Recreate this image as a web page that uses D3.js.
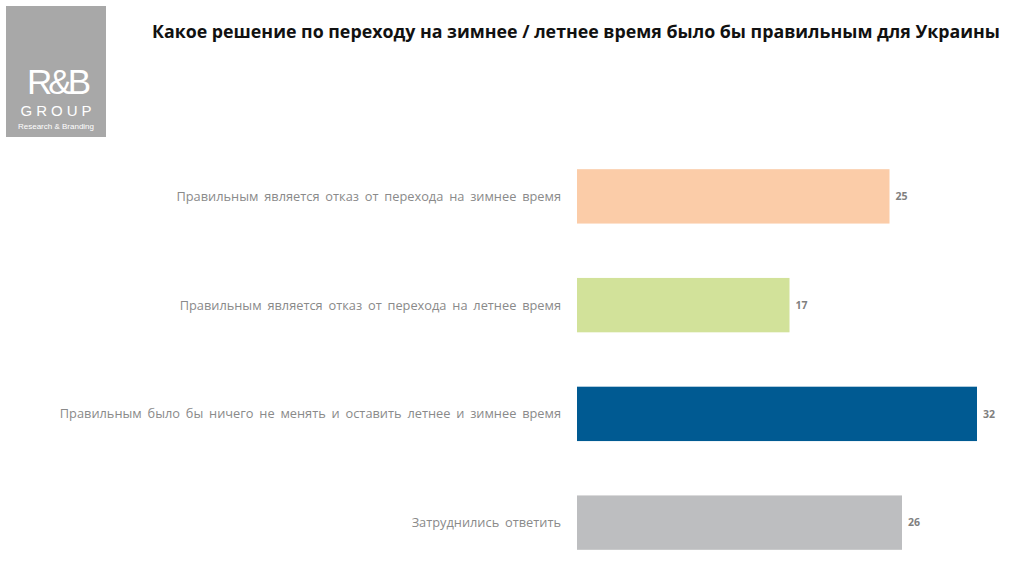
<!DOCTYPE html>
<html><head><meta charset="utf-8">
<script src="https://cdn.jsdelivr.net/npm/d3@7"></script>
<style>body{margin:0;background:#fff}svg{display:block}</style>
</head><body><svg id="c" width="1024" height="576"></svg>
<script>
const title = "Какое решение по переходу на зимнее / летнее время было бы правильным для Украины";
const categories = [
  "Правильным является отказ от перехода на зимнее время",
  "Правильным является отказ от перехода на летнее время",
  "Правильным было бы ничего не менять и оставить летнее и зимнее время",
  "Затруднились ответить"
];
const values = [25, 17, 32, 26];
const colors = ["#fbcca8", "#d2e29a", "#005a92", "#bdbec0"];

const svg = d3.select("#c");
const x = d3.scaleLinear().domain([0, 32]).range([577, 977]);
const y = d3.scaleBand().domain(categories).range([142, 577]).paddingInner(0.5).paddingOuter(0.25);

// logo
const logo = svg.append("g");
logo.append("rect").attr("x", 6).attr("y", 6).attr("width", 100).attr("height", 131).attr("fill", "#a8a8a8");
logo.append("text").attr("x", 57).attr("y", 94).attr("text-anchor", "middle").attr("fill", "#fff")
  .attr("font-family", "Liberation Sans, Arial").attr("font-size", 35).attr("letter-spacing", -4).text("R&B");
logo.append("text").attr("x", 58).attr("y", 116).attr("text-anchor", "middle").attr("fill", "#fff")
  .attr("font-family", "Liberation Sans, Arial").attr("font-size", 15).attr("letter-spacing", 4).text("GROUP");
logo.append("text").attr("x", 56).attr("y", 129).attr("text-anchor", "middle").attr("fill", "#fff")
  .attr("font-family", "Liberation Sans, Arial").attr("font-size", 8).text("Research & Branding");

svg.append("text").attr("x", 576).attr("y", 38).attr("text-anchor", "middle")
  .attr("font-family", "Open Sans, Noto Sans, sans-serif").attr("font-weight", "bold").attr("font-size", 17.8)
  .attr("fill", "#111").text(title);

const rows = svg.selectAll("g.row").data(categories).join("g").attr("class", "row");
rows.append("rect").attr("x", x(0)).attr("y", d => y(d)).attr("height", y.bandwidth())
  .attr("width", (d, i) => x(values[i]) - x(0)).attr("fill", (d, i) => colors[i]);
rows.append("text").attr("x", 561).attr("y", d => y(d) + y.bandwidth() / 2).attr("dy", "0.35em")
  .attr("text-anchor", "end").attr("font-family", "Open Sans, Noto Sans, sans-serif").attr("font-size", 12.8)
  .attr("fill", "#8a8a8a").attr("word-spacing", 2.5).text(d => d);
rows.append("text").attr("x", (d, i) => x(values[i]) + 6).attr("y", d => y(d) + y.bandwidth() / 2).attr("dy", "0.35em")
  .attr("font-family", "Open Sans, Noto Sans, sans-serif").attr("font-size", 10.5).attr("font-weight", "bold")
  .attr("fill", "#7f7f7f").text((d, i) => values[i]);
</script></body></html>
